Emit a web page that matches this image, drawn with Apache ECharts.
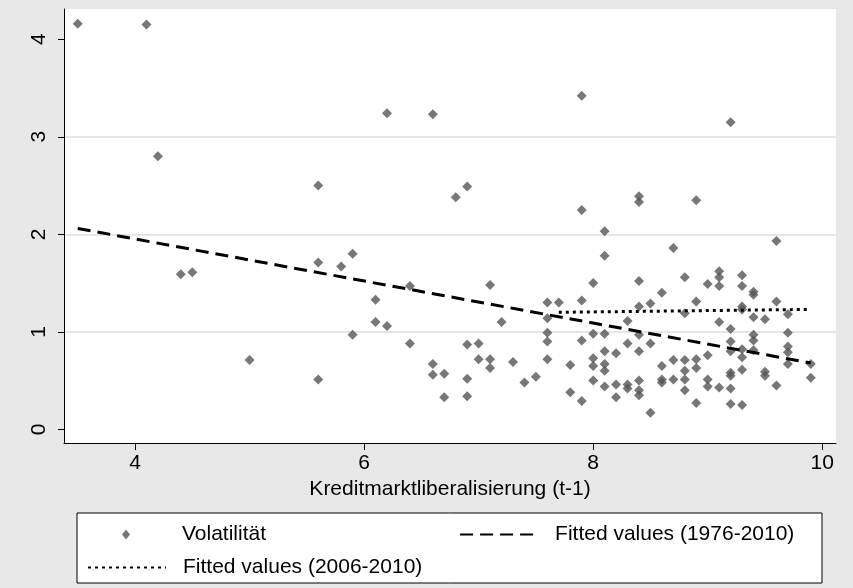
<!DOCTYPE html>
<html>
<head>
<meta charset="utf-8">
<title>Volatilität</title>
<script src="https://cdn.jsdelivr.net/npm/echarts@6/dist/echarts.min.js"></script>
<style>
	html, body { margin: 0; padding: 0; background: #e8e8e8; }
	#main { width: 853px; height: 588px; }
</style>
</head>
<body>
<div id="main"></div>
<script>
// 数据：[x, y]，从图上读出来的
var volatility = [
	[3.5, 4.16], [4.1, 4.15], [4.2, 2.80], [4.4, 1.59], [4.5, 1.61], [5.0, 0.71],
	[5.6, 2.50], [5.6, 1.71], [5.6, 0.51], [5.8, 1.67], [5.9, 1.80], [5.9, 0.97],
	[6.1, 1.33], [6.1, 1.10], [6.2, 3.24], [6.2, 1.06], [6.4, 1.47], [6.4, 0.88],
	[6.6, 3.23], [6.6, 0.67], [6.6, 0.56], [6.7, 0.57], [6.7, 0.33], [6.8, 2.38],
	[6.9, 2.49], [6.9, 0.87], [6.9, 0.52], [6.9, 0.34], [7.0, 0.88], [7.0, 0.72],
	[7.1, 1.48], [7.1, 0.72], [7.1, 0.63], [7.2, 1.10], [7.3, 0.69], [7.4, 0.48],
	[7.5, 0.54],
	[7.6, 1.30], [7.6, 1.14], [7.6, 0.99], [7.6, 0.90], [7.6, 0.72], [7.7, 1.30],
	[7.8, 0.66], [7.8, 0.38],
	[7.9, 3.42], [7.9, 2.25], [7.9, 1.32], [7.9, 0.91], [7.9, 0.29],
	[8.0, 1.50], [8.0, 0.98], [8.0, 0.73], [8.0, 0.65], [8.0, 0.50],
	[8.1, 2.03], [8.1, 1.78], [8.1, 0.98], [8.1, 0.80], [8.1, 0.67], [8.1, 0.60], [8.1, 0.44],
	[8.2, 0.78], [8.2, 0.46], [8.2, 0.33],
	[8.3, 1.11], [8.3, 0.88], [8.3, 0.46], [8.3, 0.42],
	[8.4, 2.39], [8.4, 2.33], [8.4, 1.52], [8.4, 1.26], [8.4, 0.97], [8.4, 0.80], [8.4, 0.50], [8.4, 0.40], [8.4, 0.35],
	[8.5, 1.29], [8.5, 0.88], [8.5, 0.17],
	[8.6, 1.40], [8.6, 0.65], [8.6, 0.51], [8.6, 0.48],
	[8.7, 1.86], [8.7, 0.71], [8.7, 0.51],
	[8.8, 1.56], [8.8, 1.19], [8.8, 0.71], [8.8, 0.60], [8.8, 0.51], [8.8, 0.40],
	[8.9, 2.35], [8.9, 1.31], [8.9, 0.72], [8.9, 0.63], [8.9, 0.27],
	[9.0, 1.49], [9.0, 0.76], [9.0, 0.51], [9.0, 0.44],
	[9.1, 1.62], [9.1, 1.56], [9.1, 1.47], [9.1, 1.10], [9.1, 0.43],
	[9.2, 3.15], [9.2, 1.03], [9.2, 0.90], [9.2, 0.80], [9.2, 0.58], [9.2, 0.55], [9.2, 0.42], [9.2, 0.26],
	[9.3, 1.58], [9.3, 1.47], [9.3, 1.26], [9.3, 1.23], [9.3, 0.82], [9.3, 0.74], [9.3, 0.61], [9.3, 0.25],
	[9.4, 1.41], [9.4, 1.38], [9.4, 1.15], [9.4, 0.97], [9.4, 0.91], [9.4, 0.81],
	[9.5, 1.13], [9.5, 0.59], [9.5, 0.55],
	[9.6, 1.93], [9.6, 1.31], [9.6, 0.45],
	[9.7, 1.18], [9.7, 0.99], [9.7, 0.85], [9.7, 0.79], [9.7, 0.67],
	[9.9, 0.67], [9.9, 0.53]
];
var fitAll = [[3.5, 2.06], [9.9, 0.68]];      // Fitted values (1976-2010)
var fitRecent = [[7.7, 1.20], [9.9, 1.23]];   // Fitted values (2006-2010)

var xTicks = [4, 6, 8, 10];
var yTicks = [0, 1, 2, 3, 4];
var seriesNames = ['Volatilität', 'Fitted values (1976-2010)', 'Fitted values (2006-2010)'];
var xTitle = 'Kreditmarktliberalisierung (t-1)';

var fontName = "'Liberation Sans', Arial, sans-serif";
var fontSize = 21;

// 图例里的菱形：放在 78x10 的格子中间，不要被拉宽
var diamondIcon = 'path://M0,5L0,5M78,5L78,5M35,5L39,0L43,5L39,10Z';

var myChart = echarts.init(document.getElementById('main'));

var legendText = {
	color: '#000',
	fontSize: fontSize,
	fontFamily: fontName,
	padding: [0, 0, 0, 12]
};

var option = {
	backgroundColor: '#e8e8e8',
	animation: false,
	grid: {
		left: 64,
		right: 17,
		top: 9,
		bottom: 145,
		show: true,
		backgroundColor: '#fff',
		borderWidth: 0
	},
	xAxis: {
		type: 'value',
		min: 3.38,
		max: 10.12,
		interval: 2,
		name: xTitle,
		nameLocation: 'middle',
		nameGap: 36,
		nameTextStyle: {
			color: '#000',
			fontSize: fontSize,
			fontFamily: fontName
		},
		axisLine: { show: true, onZero: false, lineStyle: { color: '#000', width: 1 } },
		axisTick: { show: true, length: 7, customValues: xTicks, lineStyle: { color: '#000' } },
		axisLabel: { customValues: xTicks, margin: 10, color: '#000', fontSize: fontSize, fontFamily: fontName },
		splitLine: { show: false }
	},
	yAxis: {
		type: 'value',
		min: -0.14,
		max: 4.31,
		interval: 1,
		axisLine: { show: true, onZero: false, lineStyle: { color: '#000', width: 1 } },
		axisTick: { show: true, length: 6, customValues: yTicks, lineStyle: { color: '#000' } },
		axisLabel: { customValues: yTicks, rotate: 90, margin: 14, color: '#000', fontSize: fontSize, fontFamily: fontName },
		splitLine: {
			show: true,
			showMinLine: false,
			showMaxLine: false,
			lineStyle: { color: '#dedede', width: 1.5 }
		}
	},
	graphic: [{
		type: 'rect',
		z: 1,
		shape: { x: 77, y: 513, width: 745, height: 70 },
		style: { fill: '#fff', stroke: '#000', lineWidth: 1 }
	}],
	legend: [{
		data: [
			{ name: seriesNames[0], icon: diamondIcon },
			{ name: seriesNames[1], itemStyle: { opacity: 0 } }
		],
		left: 87,
		top: 524,
		padding: 0,
		itemWidth: 78,
		itemHeight: 10,
		itemGap: 193,
		selectedMode: false,
		textStyle: legendText
	}, {
		data: [
			{ name: seriesNames[2], itemStyle: { opacity: 0 } }
		],
		left: 87,
		top: 557,
		padding: 0,
		itemWidth: 78,
		itemHeight: 10,
		selectedMode: false,
		textStyle: legendText
	}],
	series: [{
		name: seriesNames[0],
		type: 'scatter',
		data: volatility,
		symbol: 'diamond',
		symbolSize: 10,
		itemStyle: { color: '#555555' }
	}, {
		name: seriesNames[1],
		type: 'line',
		data: fitAll,
		symbol: 'none',
		showSymbol: false,
		lineStyle: { color: '#000', width: 3, type: [13, 7] },
		itemStyle: { color: '#000' }
	}, {
		name: seriesNames[2],
		type: 'line',
		data: fitRecent,
		symbol: 'none',
		showSymbol: false,
		lineStyle: { color: '#000', width: 3, type: [3, 4] },
		itemStyle: { color: '#000' }
	}]
};

myChart.setOption(option);
</script>
</body>
</html>
